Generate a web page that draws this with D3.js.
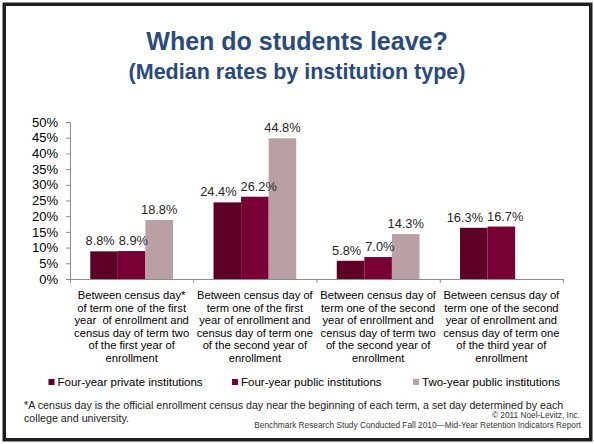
<!DOCTYPE html>
<html>
<head>
<meta charset="utf-8">
<script src="https://cdn.jsdelivr.net/npm/d3@7"></script>
<style>
  html, body { margin: 0; padding: 0; background: #fff; }
  svg { display: block; font-family: "Liberation Sans", Arial, sans-serif; }
</style>
</head>
<body>
<svg id="chart" width="594" height="444"></svg>
<script>
// ---- data ----
const categories = [
  "Between census day*\nof term one of the first\nyear  of enrollment and\ncensus day of term two\nof the first year of\nenrollment",
  "Between census day of\nterm one of the first\nyear of enrollment and\ncensus day of term one\nof the second year of\nenrollment",
  "Between census day of\nterm one of the second\nyear of enrollment and\ncensus day of term two\nof the second year of\nenrollment",
  "Between census day of\nterm one of the second\nyear of enrollment and\ncensus day of term one\nof the third year of\nenrollment"
];
const seriesNames = ["Four-year private institutions", "Four-year public institutions", "Two-year public institutions"];
const fourYearPrivate = [8.8, 24.4, 5.8, 16.3];
const fourYearPublic = [8.9, 26.2, 7.0, 16.7];
const twoYearPublic = [18.8, 44.8, 14.3, null];
const yTicks = [0, 5, 10, 15, 20, 25, 30, 35, 40, 45, 50];
const colors = ["#5e0026", "#790034", "#b8a0a4"];

const seriesValues = [fourYearPrivate, fourYearPublic, twoYearPublic];

// ---- layout ----
const svg = d3.select("#chart");
const plotLeft = 70, plotRight = 563, plotTop = 122, plotBottom = 279;

// frame
svg.append("rect")
  .attr("x", 4.25).attr("y", 4.25).attr("width", 586.5).attr("height", 435.5)
  .attr("fill", "#fff").attr("stroke", "#1e1e1e").attr("stroke-width", 3.5);

// titles
svg.append("text").attr("x", 297).attr("y", 50).attr("text-anchor", "middle")
  .attr("font-size", 25).attr("font-weight", "bold").attr("fill", "#284a7e")
  .text("When do students leave?");
svg.append("text").attr("x", 297).attr("y", 79).attr("text-anchor", "middle")
  .attr("font-size", 21.5).attr("font-weight", "bold").attr("fill", "#284a7e")
  .text("(Median rates by institution type)");

// scales
const x0 = d3.scaleBand().domain(d3.range(categories.length)).range([plotLeft, plotRight]).padding(0);
const x1 = d3.scaleBand().domain(d3.range(seriesNames.length)).range([0, x0.bandwidth()])
  .paddingInner(0).paddingOuter(0.735);
const y = d3.scaleLinear().domain([0, 50]).range([plotBottom, plotTop]);

// y axis
const yAxis = d3.axisLeft(y).tickValues(yTicks).tickFormat(d => d + "%").tickSize(4).tickPadding(8);
const gy = svg.append("g").attr("transform", `translate(${plotLeft},0)`).call(yAxis);
gy.select(".domain").attr("stroke", "#8c8c8c");
gy.selectAll(".tick line").attr("stroke", "#8c8c8c");
gy.selectAll(".tick text").attr("font-size", 13).attr("fill", "#000")
  .attr("font-family", "'Liberation Sans', Arial, sans-serif");

// bars
const groups = svg.append("g").selectAll("g")
  .data(categories.map((c, i) => i))
  .join("g")
  .attr("transform", i => `translate(${x0(i)},0)`);

groups.selectAll("rect")
  .data(i => seriesValues.map((s, k) => ({k, v: s[i]})).filter(d => d.v != null))
  .join("rect")
  .attr("x", d => x1(d.k))
  .attr("width", x1.bandwidth())
  .attr("y", d => y(d.v))
  .attr("height", d => y(0) - y(d.v))
  .attr("fill", d => colors[d.k]);

const labelSize = 12.8;
groups.each(function(i) {
  const g = d3.select(this);
  const items = seriesValues.map((s, k) => ({k, v: s[i]})).filter(d => d.v != null);
  const texts = g.selectAll("text.val").data(items).join("text")
    .attr("class", "val")
    .attr("x", d => x1(d.k) + x1.bandwidth() / 2)
    .attr("y", d => y(d.v) - 6)
    .attr("text-anchor", "middle")
    .attr("font-size", labelSize)
    .attr("fill", "#262626")
    .text(d => d.v.toFixed(1) + "%");
  // simple horizontal de-overlap between neighbouring labels
  const nodes = texts.nodes();
  const info = nodes.map((n, j) => ({n, cx: +n.getAttribute("x"), yy: +n.getAttribute("y"), w: n.getComputedTextLength()}));
  for (let j = 1; j < info.length; j++) {
    const a = info[j - 1], b = info[j];
    if (Math.abs(a.yy - b.yy) < labelSize) {
      const overlap = (a.cx + a.w / 2) - (b.cx - b.w / 2) + 4;
      if (overlap > 0) { a.cx -= overlap * 0.7; b.cx += overlap * 0.3; }
    }
  }
  info.forEach(o => o.n.setAttribute("x", o.cx));
});

// x axis
const xAxisG = svg.append("g");
xAxisG.append("line").attr("x1", plotLeft).attr("x2", plotRight).attr("y1", plotBottom + 0.5).attr("y2", plotBottom + 0.5)
  .attr("stroke", "#8c8c8c");
const boundaries = d3.range(categories.length + 1).map(i => i < categories.length ? x0(i) : x0(i - 1) + x0.bandwidth());
xAxisG.selectAll("line.tk").data(boundaries).join("line").attr("class", "tk")
  .attr("x1", d => d + 0.5).attr("x2", d => d + 0.5)
  .attr("y1", plotBottom).attr("y2", plotBottom + 4).attr("stroke", "#8c8c8c");

// category labels
categories.forEach((c, i) => {
  const t = svg.append("text")
    .attr("x", x0(i) + x0.bandwidth() / 2)
    .attr("y", 299)
    .attr("text-anchor", "middle")
    .attr("font-size", 11.2)
    .attr("fill", "#000")
    .attr("xml:space", "preserve")
    .style("white-space", "pre");
  c.split("\n").forEach((line, j) => {
    t.append("tspan").attr("x", x0(i) + x0.bandwidth() / 2).attr("dy", j === 0 ? 0 : 12.5).text(line);
  });
});

// legend
const legendX = [48.5, 232, 413];
seriesNames.forEach((name, k) => {
  svg.append("rect").attr("x", legendX[k]).attr("y", 379).attr("width", 6).attr("height", 6).attr("fill", colors[k]);
  svg.append("text").attr("x", legendX[k] + 9).attr("y", 386).attr("font-size", 11.5).attr("fill", "#000").text(name);
});

// footnotes
svg.append("text").attr("x", 24).attr("y", 408.5).attr("font-size", 10.7).attr("fill", "#222")
  .text("*A census day is the official enrollment census day near the beginning of each term, a set day determined by each");
svg.append("text").attr("x", 24).attr("y", 422).attr("font-size", 10.7).attr("fill", "#222")
  .text("college and university.");
svg.append("text").attr("x", 580).attr("y", 417.5).attr("text-anchor", "end").attr("font-size", 8.3).attr("fill", "#333")
  .text("© 2011 Noel-Levitz, Inc.");
svg.append("text").attr("x", 581).attr("y", 428).attr("text-anchor", "end").attr("font-size", 8.3).attr("fill", "#333")
  .text("Benchmark Research Study Conducted Fall 2010—Mid-Year Retention Indicators Report");
</script>
</body>
</html>
